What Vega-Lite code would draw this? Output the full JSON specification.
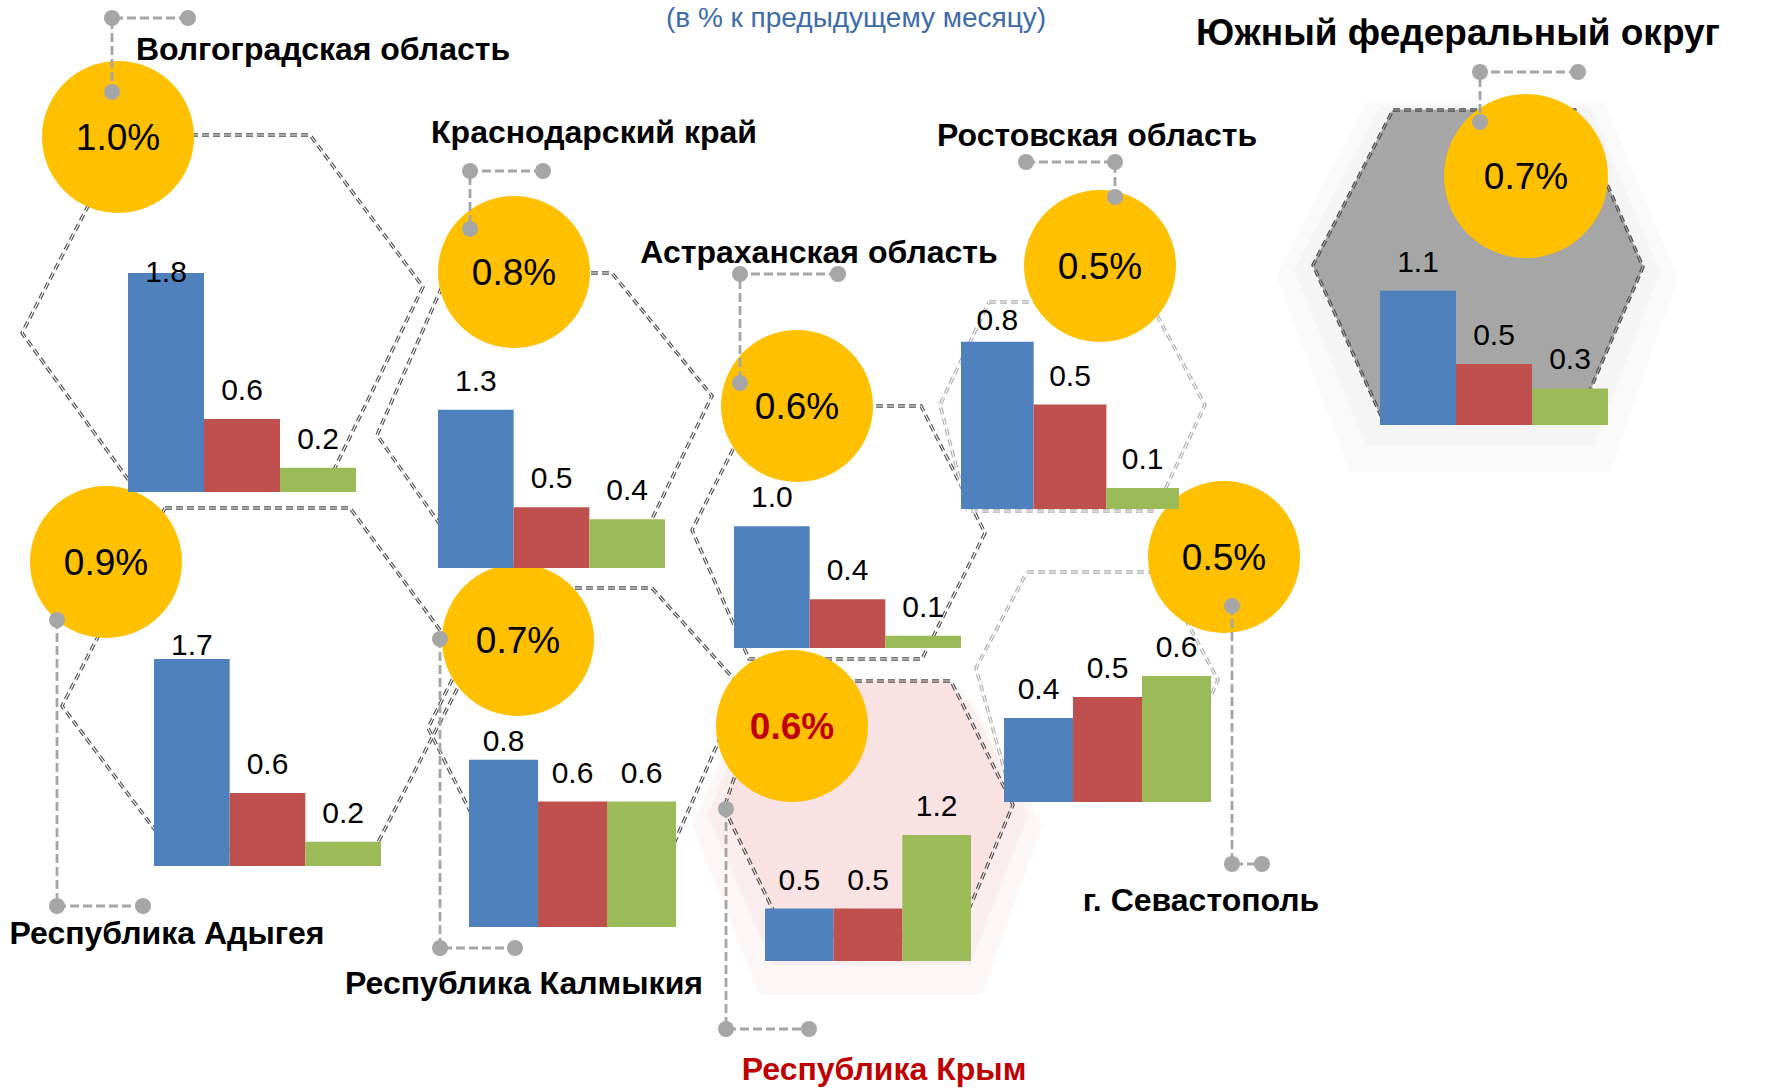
{
"$schema":"https://vega.github.io/schema/vega-lite/v6.json",
"width":1769,"height":1088,
"autosize":{"type":"none"},
"padding":0,
"background":"#ffffff",
"config":{"view":{"stroke":null},"font":"Liberation Sans"},
"datasets":{
"bars":[
{"region":"Волгоградская область","series":"Продовольственные товары","value":1.8},
{"region":"Волгоградская область","series":"Непродовольственные товары","value":0.6},
{"region":"Волгоградская область","series":"Услуги","value":0.2},
{"region":"Республика Адыгея","series":"Продовольственные товары","value":1.7},
{"region":"Республика Адыгея","series":"Непродовольственные товары","value":0.6},
{"region":"Республика Адыгея","series":"Услуги","value":0.2},
{"region":"Краснодарский край","series":"Продовольственные товары","value":1.3},
{"region":"Краснодарский край","series":"Непродовольственные товары","value":0.5},
{"region":"Краснодарский край","series":"Услуги","value":0.4},
{"region":"Астраханская область","series":"Продовольственные товары","value":1.0},
{"region":"Астраханская область","series":"Непродовольственные товары","value":0.4},
{"region":"Астраханская область","series":"Услуги","value":0.1},
{"region":"Ростовская область","series":"Продовольственные товары","value":0.8},
{"region":"Ростовская область","series":"Непродовольственные товары","value":0.5},
{"region":"Ростовская область","series":"Услуги","value":0.1},
{"region":"г. Севастополь","series":"Продовольственные товары","value":0.4},
{"region":"г. Севастополь","series":"Непродовольственные товары","value":0.5},
{"region":"г. Севастополь","series":"Услуги","value":0.6},
{"region":"Республика Калмыкия","series":"Продовольственные товары","value":0.8},
{"region":"Республика Калмыкия","series":"Непродовольственные товары","value":0.6},
{"region":"Республика Калмыкия","series":"Услуги","value":0.6},
{"region":"Республика Крым","series":"Продовольственные товары","value":0.5},
{"region":"Республика Крым","series":"Непродовольственные товары","value":0.5},
{"region":"Республика Крым","series":"Услуги","value":1.2},
{"region":"Южный федеральный округ","series":"Продовольственные товары","value":1.1},
{"region":"Южный федеральный округ","series":"Непродовольственные товары","value":0.5},
{"region":"Южный федеральный округ","series":"Услуги","value":0.3}
],
"regions":[
{"region":"Волгоградская область","pct":0.010},
{"region":"Краснодарский край","pct":0.008},
{"region":"Астраханская область","pct":0.006},
{"region":"Ростовская область","pct":0.005},
{"region":"Южный федеральный округ","pct":0.007},
{"region":"Республика Адыгея","pct":0.009},
{"region":"Республика Калмыкия","pct":0.007},
{"region":"Республика Крым","pct":0.006},
{"region":"г. Севастополь","pct":0.005}
],
"layout":[
{"region":"Волгоградская область","cx":118,"cy":137,"nx":323,"ny":60},
{"region":"Краснодарский край","cx":514,"cy":272,"nx":594,"ny":143},
{"region":"Астраханская область","cx":797,"cy":406,"nx":819,"ny":263},
{"region":"Ростовская область","cx":1100,"cy":266,"nx":1097,"ny":146},
{"region":"Южный федеральный округ","cx":1526,"cy":176,"nx":1458,"ny":45},
{"region":"Республика Адыгея","cx":106,"cy":562,"nx":167,"ny":944},
{"region":"Республика Калмыкия","cx":518,"cy":640,"nx":524,"ny":994},
{"region":"Республика Крым","cx":792,"cy":726,"nx":884,"ny":1080},
{"region":"г. Севастополь","cx":1224,"cy":557,"nx":1201,"ny":911}
],
"connectors":[
{"region":"Волгоградская область","i":1,"x":188,"y":18},{"region":"Волгоградская область","i":2,"x":112,"y":18},{"region":"Волгоградская область","i":3,"x":112,"y":92},
{"region":"Краснодарский край","i":1,"x":543,"y":171},{"region":"Краснодарский край","i":2,"x":470,"y":171},{"region":"Краснодарский край","i":3,"x":470,"y":229},
{"region":"Астраханская область","i":1,"x":838,"y":274},{"region":"Астраханская область","i":2,"x":740,"y":274},{"region":"Астраханская область","i":3,"x":740,"y":383},
{"region":"Ростовская область","i":1,"x":1026,"y":162},{"region":"Ростовская область","i":2,"x":1115,"y":162},{"region":"Ростовская область","i":3,"x":1115,"y":197},
{"region":"Южный федеральный округ","i":1,"x":1578,"y":72},{"region":"Южный федеральный округ","i":2,"x":1480,"y":72},{"region":"Южный федеральный округ","i":3,"x":1480,"y":122},
{"region":"Республика Адыгея","i":1,"x":57,"y":620},{"region":"Республика Адыгея","i":2,"x":57,"y":906},{"region":"Республика Адыгея","i":3,"x":143,"y":906},
{"region":"Республика Калмыкия","i":1,"x":440,"y":639},{"region":"Республика Калмыкия","i":2,"x":440,"y":948},{"region":"Республика Калмыкия","i":3,"x":515,"y":948},
{"region":"Республика Крым","i":1,"x":726,"y":809},{"region":"Республика Крым","i":2,"x":726,"y":1029},{"region":"Республика Крым","i":3,"x":809,"y":1029},
{"region":"г. Севастополь","i":1,"x":1232,"y":606},{"region":"г. Севастополь","i":2,"x":1232,"y":864},{"region":"г. Севастополь","i":3,"x":1262,"y":864}
],
"hexagons":[
{"region":"Волгоградская область","i":1,"x":125,"y":135},{"region":"Волгоградская область","i":2,"x":310,"y":135},{"region":"Волгоградская область","i":3,"x":423,"y":287},{"region":"Волгоградская область","i":4,"x":328,"y":482},{"region":"Волгоградская область","i":5,"x":130,"y":482},{"region":"Волгоградская область","i":6,"x":22,"y":333},{"region":"Волгоградская область","i":7,"x":125,"y":135},
{"region":"Республика Адыгея","i":1,"x":165,"y":508},{"region":"Республика Адыгея","i":2,"x":350,"y":508},{"region":"Республика Адыгея","i":3,"x":468,"y":668},{"region":"Республика Адыгея","i":4,"x":375,"y":848},{"region":"Республика Адыгея","i":5,"x":170,"y":850},{"region":"Республика Адыгея","i":6,"x":62,"y":706},{"region":"Республика Адыгея","i":7,"x":165,"y":508},
{"region":"Краснодарский край","i":1,"x":448,"y":273},{"region":"Краснодарский край","i":2,"x":612,"y":273},{"region":"Краснодарский край","i":3,"x":712,"y":396},{"region":"Краснодарский край","i":4,"x":632,"y":560},{"region":"Краснодарский край","i":5,"x":465,"y":560},{"region":"Краснодарский край","i":6,"x":377,"y":435},{"region":"Краснодарский край","i":7,"x":448,"y":273},
{"region":"Республика Калмыкия","i":1,"x":498,"y":588},{"region":"Республика Калмыкия","i":2,"x":652,"y":588},{"region":"Республика Калмыкия","i":3,"x":742,"y":688},{"region":"Республика Калмыкия","i":4,"x":658,"y":880},{"region":"Республика Калмыкия","i":5,"x":505,"y":880},{"region":"Республика Калмыкия","i":6,"x":428,"y":728},{"region":"Республика Калмыкия","i":7,"x":498,"y":588},
{"region":"Астраханская область","i":1,"x":755,"y":406},{"region":"Астраханская область","i":2,"x":921,"y":406},{"region":"Астраханская область","i":3,"x":985,"y":533},{"region":"Астраханская область","i":4,"x":922,"y":659},{"region":"Астраханская область","i":5,"x":749,"y":659},{"region":"Астраханская область","i":6,"x":692,"y":530},{"region":"Астраханская область","i":7,"x":755,"y":406},
{"region":"Ростовская область","i":1,"x":989,"y":302},{"region":"Ростовская область","i":2,"x":1150,"y":302},{"region":"Ростовская область","i":3,"x":1205,"y":405},{"region":"Ростовская область","i":4,"x":1155,"y":511},{"region":"Ростовская область","i":5,"x":968,"y":511},{"region":"Ростовская область","i":6,"x":940,"y":405},{"region":"Ростовская область","i":7,"x":989,"y":302},
{"region":"г. Севастополь","i":1,"x":1027,"y":572},{"region":"г. Севастополь","i":2,"x":1160,"y":572},{"region":"г. Севастополь","i":3,"x":1218,"y":680},{"region":"г. Севастополь","i":4,"x":1170,"y":790},{"region":"г. Севастополь","i":5,"x":1010,"y":790},{"region":"г. Севастополь","i":6,"x":976,"y":668},{"region":"г. Севастополь","i":7,"x":1027,"y":572},
{"region":"Республика Крым","i":1,"x":767,"y":681},{"region":"Республика Крым","i":2,"x":951,"y":681},{"region":"Республика Крым","i":3,"x":1013,"y":805},{"region":"Республика Крым","i":4,"x":958,"y":935},{"region":"Республика Крым","i":5,"x":785,"y":935},{"region":"Республика Крым","i":6,"x":724,"y":808},{"region":"Республика Крым","i":7,"x":767,"y":681},
{"region":"Южный федеральный округ","i":1,"x":1393,"y":110},{"region":"Южный федеральный округ","i":2,"x":1575,"y":110},{"region":"Южный федеральный округ","i":3,"x":1643,"y":267},{"region":"Южный федеральный округ","i":4,"x":1578,"y":418},{"region":"Южный федеральный округ","i":5,"x":1382,"y":418},{"region":"Южный федеральный округ","i":6,"x":1313,"y":265},{"region":"Южный федеральный округ","i":7,"x":1393,"y":110}
],
"shadows":[
{"region":"Южный федеральный округ","ring":1,"i":1,"x":1380,"y":106},{"region":"Южный федеральный округ","ring":1,"i":2,"x":1590,"y":106},{"region":"Южный федеральный округ","ring":1,"i":3,"x":1660,"y":272},{"region":"Южный федеральный округ","ring":1,"i":4,"x":1594,"y":446},{"region":"Южный федеральный округ","ring":1,"i":5,"x":1366,"y":446},{"region":"Южный федеральный округ","ring":1,"i":6,"x":1294,"y":270},
{"region":"Южный федеральный округ","ring":2,"i":1,"x":1366,"y":102},{"region":"Южный федеральный округ","ring":2,"i":2,"x":1604,"y":102},{"region":"Южный федеральный округ","ring":2,"i":3,"x":1678,"y":278},{"region":"Южный федеральный округ","ring":2,"i":4,"x":1610,"y":472},{"region":"Южный федеральный округ","ring":2,"i":5,"x":1350,"y":472},{"region":"Южный федеральный округ","ring":2,"i":6,"x":1276,"y":276},
{"region":"Республика Крым","ring":1,"i":1,"x":757,"y":690},{"region":"Республика Крым","ring":1,"i":2,"x":963,"y":690},{"region":"Республика Крым","ring":1,"i":3,"x":1028,"y":815},{"region":"Республика Крым","ring":1,"i":4,"x":970,"y":965},{"region":"Республика Крым","ring":1,"i":5,"x":772,"y":965},{"region":"Республика Крым","ring":1,"i":6,"x":708,"y":815},
{"region":"Республика Крым","ring":2,"i":1,"x":748,"y":700},{"region":"Республика Крым","ring":2,"i":2,"x":972,"y":700},{"region":"Республика Крым","ring":2,"i":3,"x":1042,"y":825},{"region":"Республика Крым","ring":2,"i":4,"x":982,"y":995},{"region":"Республика Крым","ring":2,"i":5,"x":760,"y":995},{"region":"Республика Крым","ring":2,"i":6,"x":692,"y":825}
]
},
"data":{"name":"bars"},
"layer":[
{
"layer":[
{"data":{"name":"shadows"},"transform":[{"filter":"datum.region === 'Южный федеральный округ'"}],
 "mark":{"type":"line","fill":"#8C8C8C","fillOpacity":0.04,"strokeWidth":0},
 "encoding":{"x":{"field":"x","type":"quantitative","axis":null,"scale":{"domain":[0,1769],"range":[0,1769],"nice":false,"zero":false}},
  "y":{"field":"y","type":"quantitative","axis":null,"scale":{"domain":[0,1088],"range":[0,1088],"nice":false,"zero":false}},
  "order":{"field":"i","type":"quantitative"},"detail":{"field":"ring","type":"nominal"}}},
{"data":{"name":"shadows"},"transform":[{"filter":"datum.region === 'Республика Крым'"}],
 "mark":{"type":"line","fill":"#D27A7A","fillOpacity":0.07,"strokeWidth":0},
 "encoding":{"x":{"field":"x","type":"quantitative","axis":null,"scale":{"domain":[0,1769],"range":[0,1769],"nice":false,"zero":false}},
  "y":{"field":"y","type":"quantitative","axis":null,"scale":{"domain":[0,1088],"range":[0,1088],"nice":false,"zero":false}},
  "order":{"field":"i","type":"quantitative"},"detail":{"field":"ring","type":"nominal"}}},
{"data":{"name":"hexagons"},"transform":[{"filter":"datum.region === 'Южный федеральный округ'"}],
 "mark":{"type":"line","fill":"#A6A6A6","strokeWidth":0},
 "encoding":{"x":{"field":"x","type":"quantitative","axis":null,"scale":{"domain":[0,1769],"range":[0,1769],"nice":false,"zero":false}},
  "y":{"field":"y","type":"quantitative","axis":null,"scale":{"domain":[0,1088],"range":[0,1088],"nice":false,"zero":false}},
  "order":{"field":"i","type":"quantitative"}}},
{"data":{"name":"hexagons"},"transform":[{"filter":"datum.region === 'Республика Крым'"}],
 "mark":{"type":"line","fill":"#F8E2E2","strokeWidth":0},
 "encoding":{"x":{"field":"x","type":"quantitative","axis":null,"scale":{"domain":[0,1769],"range":[0,1769],"nice":false,"zero":false}},
  "y":{"field":"y","type":"quantitative","axis":null,"scale":{"domain":[0,1088],"range":[0,1088],"nice":false,"zero":false}},
  "order":{"field":"i","type":"quantitative"}}},
{"data":{"name":"hexagons"},
 "mark":{"type":"line","strokeWidth":3.4,"strokeDash":[7,4]},
 "encoding":{"x":{"field":"x","type":"quantitative","axis":null,"scale":{"domain":[0,1769],"range":[0,1769],"nice":false,"zero":false}},
  "y":{"field":"y","type":"quantitative","axis":null,"scale":{"domain":[0,1088],"range":[0,1088],"nice":false,"zero":false}},
  "order":{"field":"i","type":"quantitative"},"detail":{"field":"region","type":"nominal"},
  "stroke":{"condition":{"test":"datum.region === 'Ростовская область' || datum.region === 'г. Севастополь'","value":"#ADADAD"},"value":"#4F4F4F"}}},
{"data":{"name":"hexagons"},
 "mark":{"type":"line","strokeWidth":1.1},
 "encoding":{"x":{"field":"x","type":"quantitative","axis":null,"scale":{"domain":[0,1769],"range":[0,1769],"nice":false,"zero":false}},
  "y":{"field":"y","type":"quantitative","axis":null,"scale":{"domain":[0,1088],"range":[0,1088],"nice":false,"zero":false}},
  "order":{"field":"i","type":"quantitative"},"detail":{"field":"region","type":"nominal"},
  "stroke":{"condition":[{"test":"datum.region === 'Южный федеральный округ'","value":"#A6A6A6"},{"test":"datum.region === 'Республика Крым'","value":"#F8E2E2"}],"value":"#FFFFFF"}}},
{"data":{"name":"regions"},"transform":[{"lookup":"region","from":{"data":{"name":"layout"},"key":"region","fields":["cx","cy"]}}],
 "mark":{"type":"point","shape":"circle","filled":true,"color":"#FFC000","opacity":1,"strokeWidth":0},
 "encoding":{"x":{"field":"cx","type":"quantitative","axis":null,"scale":{"domain":[0,1769],"range":[0,1769],"nice":false,"zero":false}},
  "y":{"field":"cy","type":"quantitative","axis":null,"scale":{"domain":[0,1088],"range":[0,1088],"nice":false,"zero":false}},
  "size":{"condition":{"test":"datum.region === 'Южный федеральный округ'","value":26900},"value":23104}}},
{"data":{"name":"regions"},"transform":[{"lookup":"region","from":{"data":{"name":"layout"},"key":"region","fields":["cx","cy"]}},{"filter":"datum.region !== 'Республика Крым'"}],
 "mark":{"type":"text","fontSize":37,"align":"center","baseline":"middle","dy":2,"color":"#000000"},
 "encoding":{"x":{"field":"cx","type":"quantitative","axis":null,"scale":{"domain":[0,1769],"range":[0,1769],"nice":false,"zero":false}},
  "y":{"field":"cy","type":"quantitative","axis":null,"scale":{"domain":[0,1088],"range":[0,1088],"nice":false,"zero":false}},
  "text":{"field":"pct","type":"quantitative","format":".1%"}}},
{"data":{"name":"regions"},"transform":[{"lookup":"region","from":{"data":{"name":"layout"},"key":"region","fields":["cx","cy"]}},{"filter":"datum.region === 'Республика Крым'"}],
 "mark":{"type":"text","fontSize":37,"fontWeight":"bold","align":"center","baseline":"middle","dy":2,"color":"#C00000"},
 "encoding":{"x":{"field":"cx","type":"quantitative","axis":null,"scale":{"domain":[0,1769],"range":[0,1769],"nice":false,"zero":false}},
  "y":{"field":"cy","type":"quantitative","axis":null,"scale":{"domain":[0,1088],"range":[0,1088],"nice":false,"zero":false}},
  "text":{"field":"pct","type":"quantitative","format":".1%"}}}
]
},
{"transform":[{"filter":{"field":"region","equal":"Волгоградская область"}}],
 "encoding":{"x":{"field":"series","type":"nominal","axis":null,"scale":{"type":"band","domain":["Продовольственные товары","Непродовольственные товары","Услуги"],"range":[128,356],"paddingInner":0,"paddingOuter":0}}},
 "layer":[
  {"mark":{"type":"bar"},"encoding":{"y":{"field":"value","type":"quantitative","axis":null,"scale":{"domain":[0,2],"range":[492,248.6],"nice":false,"zero":true}},"color":{"field":"series","type":"nominal","legend":null,"scale":{"domain":["Продовольственные товары","Непродовольственные товары","Услуги"],"range":["#4F81BD","#C0504D","#9BBB59"]}}}},
  {"mark":{"type":"text","fontSize":30,"baseline":"alphabetic","align":"center","color":"#000000"},"encoding":{"y":{"field":"value","type":"quantitative","axis":null,"scale":{"domain":[0,1.569],"range":[473,282],"nice":false,"zero":false,"clamp":true}},"text":{"field":"value","type":"quantitative","format":".1f"}}}
 ],
 "resolve":{"scale":{"y":"independent"}}},
{"transform":[{"filter":{"field":"region","equal":"Республика Адыгея"}}],
 "encoding":{"x":{"field":"series","type":"nominal","axis":null,"scale":{"type":"band","domain":["Продовольственные товары","Непродовольственные товары","Услуги"],"range":[154,381],"paddingInner":0,"paddingOuter":0}}},
 "layer":[
  {"mark":{"type":"bar"},"encoding":{"y":{"field":"value","type":"quantitative","axis":null,"scale":{"domain":[0,2],"range":[866,622.6],"nice":false,"zero":true}},"color":{"field":"series","type":"nominal","legend":null,"scale":{"domain":["Продовольственные товары","Непродовольственные товары","Услуги"],"range":["#4F81BD","#C0504D","#9BBB59"]}}}},
  {"mark":{"type":"text","fontSize":30,"baseline":"alphabetic","align":"center","color":"#000000"},"encoding":{"y":{"field":"value","type":"quantitative","axis":null,"scale":{"domain":[0,1.578],"range":[847,655],"nice":false,"zero":false,"clamp":true}},"text":{"field":"value","type":"quantitative","format":".1f"}}}
 ],
 "resolve":{"scale":{"y":"independent"}}},
{"transform":[{"filter":{"field":"region","equal":"Краснодарский край"}}],
 "encoding":{"x":{"field":"series","type":"nominal","axis":null,"scale":{"type":"band","domain":["Продовольственные товары","Непродовольственные товары","Услуги"],"range":[438,665],"paddingInner":0,"paddingOuter":0}}},
 "layer":[
  {"mark":{"type":"bar"},"encoding":{"y":{"field":"value","type":"quantitative","axis":null,"scale":{"domain":[0,2],"range":[568,324.6],"nice":false,"zero":true}},"color":{"field":"series","type":"nominal","legend":null,"scale":{"domain":["Продовольственные товары","Непродовольственные товары","Услуги"],"range":["#4F81BD","#C0504D","#9BBB59"]}}}},
  {"mark":{"type":"text","fontSize":30,"baseline":"alphabetic","align":"center","color":"#000000"},"encoding":{"y":{"field":"value","type":"quantitative","axis":null,"scale":{"domain":[0,2],"range":[549,305.6],"nice":false,"zero":false,"clamp":true}},"text":{"field":"value","type":"quantitative","format":".1f"}}}
 ],
 "resolve":{"scale":{"y":"independent"}}},
{"transform":[{"filter":{"field":"region","equal":"Астраханская область"}}],
 "encoding":{"x":{"field":"series","type":"nominal","axis":null,"scale":{"type":"band","domain":["Продовольственные товары","Непродовольственные товары","Услуги"],"range":[734,961],"paddingInner":0,"paddingOuter":0}}},
 "layer":[
  {"mark":{"type":"bar"},"encoding":{"y":{"field":"value","type":"quantitative","axis":null,"scale":{"domain":[0,2],"range":[648,404.6],"nice":false,"zero":true}},"color":{"field":"series","type":"nominal","legend":null,"scale":{"domain":["Продовольственные товары","Непродовольственные товары","Услуги"],"range":["#4F81BD","#C0504D","#9BBB59"]}}}},
  {"mark":{"type":"text","fontSize":30,"baseline":"alphabetic","align":"center","color":"#000000"},"encoding":{"y":{"field":"value","type":"quantitative","axis":null,"scale":{"domain":[0,2],"range":[629,385.6],"nice":false,"zero":false,"clamp":true}},"text":{"field":"value","type":"quantitative","format":".1f"}}}
 ],
 "resolve":{"scale":{"y":"independent"}}},
{"transform":[{"filter":{"field":"region","equal":"Ростовская область"}}],
 "encoding":{"x":{"field":"series","type":"nominal","axis":null,"scale":{"type":"band","domain":["Продовольственные товары","Непродовольственные товары","Услуги"],"range":[961,1179],"paddingInner":0,"paddingOuter":0}}},
 "layer":[
  {"mark":{"type":"bar"},"encoding":{"y":{"field":"value","type":"quantitative","axis":null,"scale":{"domain":[0,1],"range":[509,300],"nice":false,"zero":true}},"color":{"field":"series","type":"nominal","legend":null,"scale":{"domain":["Продовольственные товары","Непродовольственные товары","Услуги"],"range":["#4F81BD","#C0504D","#9BBB59"]}}}},
  {"mark":{"type":"text","fontSize":30,"baseline":"alphabetic","align":"center","color":"#000000"},"encoding":{"y":{"field":"value","type":"quantitative","axis":null,"scale":{"domain":[0,0.766],"range":[490,330],"nice":false,"zero":false,"clamp":true}},"text":{"field":"value","type":"quantitative","format":".1f"}}}
 ],
 "resolve":{"scale":{"y":"independent"}}},
{"transform":[{"filter":{"field":"region","equal":"г. Севастополь"}}],
 "encoding":{"x":{"field":"series","type":"nominal","axis":null,"scale":{"type":"band","domain":["Продовольственные товары","Непродовольственные товары","Услуги"],"range":[1004,1211],"paddingInner":0,"paddingOuter":0}}},
 "layer":[
  {"mark":{"type":"bar"},"encoding":{"y":{"field":"value","type":"quantitative","axis":null,"scale":{"domain":[0,1],"range":[802,592],"nice":false,"zero":true}},"color":{"field":"series","type":"nominal","legend":null,"scale":{"domain":["Продовольственные товары","Непродовольственные товары","Услуги"],"range":["#4F81BD","#C0504D","#9BBB59"]}}}},
  {"mark":{"type":"text","fontSize":30,"baseline":"alphabetic","align":"center","color":"#000000"},"encoding":{"y":{"field":"value","type":"quantitative","axis":null,"scale":{"domain":[0,1],"range":[783,573],"nice":false,"zero":false,"clamp":true}},"text":{"field":"value","type":"quantitative","format":".1f"}}}
 ],
 "resolve":{"scale":{"y":"independent"}}},
{"transform":[{"filter":{"field":"region","equal":"Республика Калмыкия"}}],
 "encoding":{"x":{"field":"series","type":"nominal","axis":null,"scale":{"type":"band","domain":["Продовольственные товары","Непродовольственные товары","Услуги"],"range":[469,676],"paddingInner":0,"paddingOuter":0}}},
 "layer":[
  {"mark":{"type":"bar"},"encoding":{"y":{"field":"value","type":"quantitative","axis":null,"scale":{"domain":[0,1],"range":[927,718],"nice":false,"zero":true}},"color":{"field":"series","type":"nominal","legend":null,"scale":{"domain":["Продовольственные товары","Непродовольственные товары","Услуги"],"range":["#4F81BD","#C0504D","#9BBB59"]}}}},
  {"mark":{"type":"text","fontSize":30,"baseline":"alphabetic","align":"center","color":"#000000"},"encoding":{"y":{"field":"value","type":"quantitative","axis":null,"scale":{"domain":[0,0.751],"range":[908,751],"nice":false,"zero":false,"clamp":true}},"text":{"field":"value","type":"quantitative","format":".1f"}}}
 ],
 "resolve":{"scale":{"y":"independent"}}},
{"transform":[{"filter":{"field":"region","equal":"Республика Крым"}}],
 "encoding":{"x":{"field":"series","type":"nominal","axis":null,"scale":{"type":"band","domain":["Продовольственные товары","Непродовольственные товары","Услуги"],"range":[765,971],"paddingInner":0,"paddingOuter":0}}},
 "layer":[
  {"mark":{"type":"bar"},"encoding":{"y":{"field":"value","type":"quantitative","axis":null,"scale":{"domain":[0,1.5],"range":[961,803.5],"nice":false,"zero":true}},"color":{"field":"series","type":"nominal","legend":null,"scale":{"domain":["Продовольственные товары","Непродовольственные товары","Услуги"],"range":["#4F81BD","#C0504D","#9BBB59"]}}}},
  {"mark":{"type":"text","fontSize":30,"baseline":"alphabetic","align":"center","color":"#000000"},"encoding":{"y":{"field":"value","type":"quantitative","axis":null,"scale":{"domain":[0,1.5],"range":[942,784.5],"nice":false,"zero":false,"clamp":true}},"text":{"field":"value","type":"quantitative","format":".1f"}}}
 ],
 "resolve":{"scale":{"y":"independent"}}},
{"transform":[{"filter":{"field":"region","equal":"Южный федеральный округ"}}],
 "encoding":{"x":{"field":"series","type":"nominal","axis":null,"scale":{"type":"band","domain":["Продовольственные товары","Непродовольственные товары","Услуги"],"range":[1380,1608],"paddingInner":0,"paddingOuter":0}}},
 "layer":[
  {"mark":{"type":"bar"},"encoding":{"y":{"field":"value","type":"quantitative","axis":null,"scale":{"domain":[0,2],"range":[425,181],"nice":false,"zero":true}},"color":{"field":"series","type":"nominal","legend":null,"scale":{"domain":["Продовольственные товары","Непродовольственные товары","Услуги"],"range":["#4F81BD","#C0504D","#9BBB59"]}}}},
  {"mark":{"type":"text","fontSize":30,"baseline":"alphabetic","align":"center","color":"#000000"},"encoding":{"y":{"field":"value","type":"quantitative","axis":null,"scale":{"domain":[0,2],"range":[406,162],"nice":false,"zero":false,"clamp":true}},"text":{"field":"value","type":"quantitative","format":".1f"}}}
 ],
 "resolve":{"scale":{"y":"independent"}}},
{
"layer":[
{"data":{"name":"connectors"},
 "mark":{"type":"line","stroke":"#A6A6A6","strokeWidth":2.8,"strokeDash":[9,4]},
 "encoding":{"x":{"field":"x","type":"quantitative","axis":null,"scale":{"domain":[0,1769],"range":[0,1769],"nice":false,"zero":false}},
  "y":{"field":"y","type":"quantitative","axis":null,"scale":{"domain":[0,1088],"range":[0,1088],"nice":false,"zero":false}},
  "order":{"field":"i","type":"quantitative"},"detail":{"field":"region","type":"nominal"}}},
{"data":{"name":"connectors"},
 "mark":{"type":"point","shape":"circle","filled":true,"color":"#A6A6A6","opacity":1,"size":256,"strokeWidth":0},
 "encoding":{"x":{"field":"x","type":"quantitative","axis":null,"scale":{"domain":[0,1769],"range":[0,1769],"nice":false,"zero":false}},
  "y":{"field":"y","type":"quantitative","axis":null,"scale":{"domain":[0,1088],"range":[0,1088],"nice":false,"zero":false}}}},
{"data":{"name":"regions"},"transform":[{"lookup":"region","from":{"data":{"name":"layout"},"key":"region","fields":["nx","ny"]}}],
 "mark":{"type":"text","fontWeight":"bold","align":"center","baseline":"alphabetic"},
 "encoding":{"x":{"field":"nx","type":"quantitative","axis":null,"scale":{"domain":[0,1769],"range":[0,1769],"nice":false,"zero":false}},
  "y":{"field":"ny","type":"quantitative","axis":null,"scale":{"domain":[0,1088],"range":[0,1088],"nice":false,"zero":false}},
  "text":{"field":"region","type":"nominal"},
  "size":{"condition":{"test":"datum.region === 'Южный федеральный округ'","value":37},"value":32},
  "color":{"condition":{"test":"datum.region === 'Республика Крым'","value":"#C00000"},"value":"#000000"}}},
{"data":{"values":[{"t":"(в % к предыдущему месяцу)"}]},
 "mark":{"type":"text","fontSize":28,"align":"center","baseline":"top","color":"#3E6BAA"},
 "encoding":{"x":{"datum":856,"type":"quantitative","axis":null,"scale":{"domain":[0,1769],"range":[0,1769],"nice":false,"zero":false}},
  "y":{"datum":5,"type":"quantitative","axis":null,"scale":{"domain":[0,1088],"range":[0,1088],"nice":false,"zero":false}},
  "text":{"field":"t","type":"nominal"}}}
]
}
],
"resolve":{"scale":{"x":"independent","y":"independent"}}
}
